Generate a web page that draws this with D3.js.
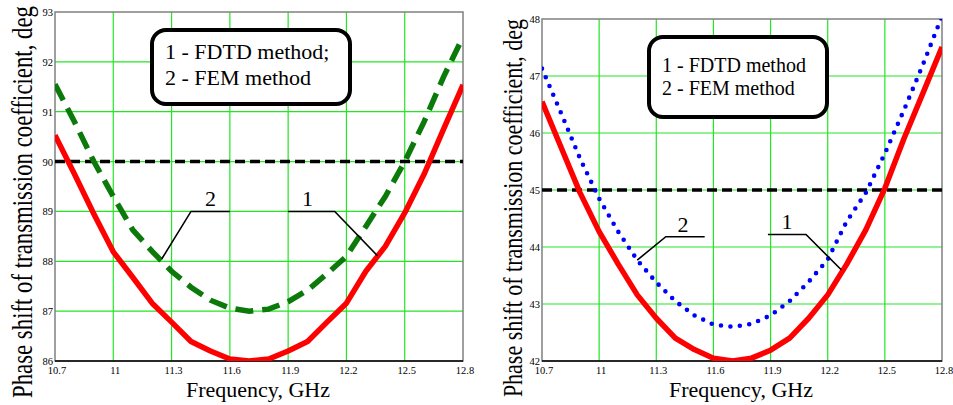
<!DOCTYPE html>
<html>
<head>
<meta charset="utf-8">
<script src="https://cdn.jsdelivr.net/npm/d3@7"></script>
</head>
<body style="margin:0;background:#fff">
<script>
// frequency points, GHz
var freq = [10.7, 10.8, 10.9, 11.0, 11.1, 11.2, 11.3, 11.4, 11.5, 11.6, 11.7,
            11.8, 11.9, 12.0, 12.1, 12.2, 12.3, 12.4, 12.5, 12.6, 12.7, 12.8];

// left panel, deg
var fdtdLeft = [90.53, 89.75, 88.95, 88.19, 87.68, 87.16, 86.78, 86.39, 86.2, 86.04, 86.0,
                86.04, 86.2, 86.39, 86.78, 87.16, 87.8, 88.3, 88.97, 89.75, 90.65, 91.54];
var femLeft  = [91.55, 90.8, 90.0, 89.3, 88.63, 88.2, 87.8, 87.48, 87.22, 87.06, 87.0,
                87.04, 87.19, 87.42, 87.75, 88.1, 88.7, 89.3, 90.0, 90.8, 91.7, 92.5];
var levelLeft = 90;

// right panel, deg
var fdtdRight = [46.55, 45.75, 44.95, 44.27, 43.7, 43.16, 42.75, 42.4, 42.2, 42.05, 42.0,
                 42.05, 42.19, 42.4, 42.75, 43.16, 43.7, 44.3, 45.03, 45.9, 46.7, 47.51];
var femRight  = [47.13, 46.35, 45.55, 44.85, 44.27, 43.77, 43.38, 43.05, 42.8, 42.64, 42.6,
                 42.65, 42.8, 43.05, 43.39, 43.78, 44.45, 44.95, 45.64, 46.4, 47.2, 48.05];
var levelRight = 45;

var xTicks = [10.7, 11, 11.3, 11.6, 11.9, 12.2, 12.5, 12.8];
var yTicksLeft = [86, 87, 88, 89, 90, 91, 92, 93];
var yTicksRight = [42, 43, 44, 45, 46, 47, 48];

var legendLines = ["1 - FDTD method;", "2 - FEM method"];
var legendLinesRight = ["1 - FDTD method", "2 - FEM method"];
var xTitle = "Frequency, GHz";
var yTitle = "Phase shift of transmission coefficient, deg";

var FONT = "'Liberation Serif'";

var svg = d3.select("body")
  .append("svg")
    .attr("width", 953)
    .attr("height", 405);

svg.append("rect").attr("width", 953).attr("height", 405).attr("fill", "#fff");

// small helper so every label gets the serif face
var label = function(sel, size) {
  return sel.append("text").style("font-family", FONT).attr("font-size", size);
};

var drawPanel = function(p) {
  var x = d3.scaleLinear().domain([10.7, 12.8]).range([p.left, p.right]);
  var y = d3.scaleLinear().domain([p.yTicks[0], p.yTicks[p.yTicks.length - 1]]).range([p.bottom, p.top]);
  var g = svg.append("g");

  g.append("clipPath").attr("id", p.id)
    .append("rect")
      .attr("x", p.left).attr("y", p.top)
      .attr("width", p.right - p.left).attr("height", p.bottom - p.top);

  // grid
  g.selectAll(".gx").data(xTicks.slice(1, -1)).enter().append("line")
    .attr("x1", function(d) { return x(d); }).attr("x2", function(d) { return x(d); })
    .attr("y1", p.top).attr("y2", p.bottom)
    .attr("stroke", "#22e622").attr("stroke-width", 1.2);
  g.selectAll(".gy").data(p.yTicks.slice(1, -1)).enter().append("line")
    .attr("y1", function(d) { return y(d); }).attr("y2", function(d) { return y(d); })
    .attr("x1", p.left).attr("x2", p.right)
    .attr("stroke", "#22e622").attr("stroke-width", 1.2);

  // frame: grey sides, black bottom
  g.append("rect")
    .attr("x", p.left).attr("y", p.top)
    .attr("width", p.right - p.left).attr("height", p.bottom - p.top)
    .attr("fill", "none").attr("stroke", "#808080").attr("stroke-width", 1.5);
  g.append("line")
    .attr("x1", p.left).attr("x2", p.right).attr("y1", p.bottom).attr("y2", p.bottom)
    .attr("stroke", "#000").attr("stroke-width", 1.5);

  // tick labels
  p.yTicks.forEach(function(d) {
    label(g, 10.5)
      .attr("x", p.left - 2).attr("y", y(d) + p.tyOff)
      .attr("text-anchor", "end")
      .text(d);
  });
  xTicks.forEach(function(d) {
    label(g, 10.5)
      .attr("x", x(d) + 2).attr("y", p.bottom + 13)
      .attr("text-anchor", "middle")
      .text(d);
  });

  var plot = g.append("g").attr("clip-path", "url(#" + p.id + ")");

  // reference level
  plot.append("line")
    .attr("x1", p.left).attr("x2", p.right)
    .attr("y1", y(p.level)).attr("y2", y(p.level))
    .attr("stroke", "#000").attr("stroke-width", 3.5).attr("stroke-dasharray", "10 5");

  var line = d3.line()
    .x(function(d, i) { return x(freq[i]); })
    .y(function(d) { return y(d); });

  plot.append("path").datum(p.fem)
    .attr("d", line).attr("fill", "none")
    .attr("stroke", p.femColor).attr("stroke-width", p.femWidth)
    .attr("stroke-dasharray", p.femDash).attr("stroke-linecap", p.femCap);

  plot.append("path").datum(p.fdtd)
    .attr("d", line).attr("fill", "none")
    .attr("stroke", "#ff0000").attr("stroke-width", 5.5).attr("stroke-linejoin", "round");

  // callouts "1" and "2"
  p.callouts.forEach(function(c) {
    g.append("path")
      .attr("d", d3.line()(c.pts.map(function(q) { return [x(q[0]), y(q[1])]; })))
      .attr("fill", "none").attr("stroke", "#000").attr("stroke-width", 1.6);
    label(g, 22)
      .attr("x", x(c.lx)).attr("y", y(c.pts[1][1]) - 5)
      .attr("text-anchor", "middle")
      .text(c.label);
  });

  // legend box
  var lb = p.legend;
  g.append("rect")
    .attr("x", lb.x).attr("y", lb.y).attr("width", lb.w).attr("height", lb.h)
    .attr("rx", 14).attr("fill", "#fff").attr("stroke", "#000").attr("stroke-width", 4);
  lb.lines.forEach(function(t, i) {
    label(g, lb.fs)
      .attr("x", lb.tx).attr("y", lb.ty + i * lb.dy)
      .text(t);
  });

  // axis titles
  label(g, 22)
    .attr("x", (p.left + p.right) / 2 - 1).attr("y", 397)
    .attr("text-anchor", "middle")
    .text(xTitle);
  label(g, p.yTitleSize)
    .attr("transform", "translate(" + p.yTitleX + "," + p.yTitleY + ") scale(1.25,1) rotate(-90)")
    .attr("text-anchor", "middle")
    .text(yTitle);
};

drawPanel({
  id: "clipL", left: 55, right: 463, top: 12, bottom: 361,
  yTicks: yTicksLeft, tyOff: 4, level: levelLeft,
  fdtd: fdtdLeft, fem: femLeft,
  femColor: "#0b7a0b", femWidth: 5.5, femDash: "18 9", femCap: "butt",
  callouts: [
    { label: "2", lx: 11.5, pts: [[11.25, 88.05], [11.4, 89.0], [11.6, 89.0]] },
    { label: "1", lx: 12.0, pts: [[11.9, 89.0], [12.14, 89.0], [12.36, 88.11]] }
  ],
  legend: { x: 152, y: 30, w: 198, h: 74, tx: 165, ty: 59, dy: 26, fs: 22, lines: legendLines },
  yTitleX: 32, yTitleY: 202, yTitleSize: 22.8
});

drawPanel({
  id: "clipR", left: 542, right: 942, top: 19, bottom: 361,
  yTicks: yTicksRight, tyOff: 4, level: levelRight,
  fdtd: fdtdRight, fem: femRight,
  femColor: "#0000ff", femWidth: 4.6, femDash: "0 9.5", femCap: "round",
  callouts: [
    { label: "2", lx: 11.44, pts: [[11.2, 43.77], [11.35, 44.18], [11.554, 44.18]] },
    { label: "1", lx: 11.986, pts: [[11.886, 44.22], [12.086, 44.22], [12.271, 43.6]] }
  ],
  legend: { x: 649, y: 37, w: 178, h: 80, tx: 662, ty: 72, dy: 23, fs: 20, lines: legendLinesRight },
  yTitleX: 522, yTitleY: 208, yTitleSize: 22
});
</script>
</body>
</html>
